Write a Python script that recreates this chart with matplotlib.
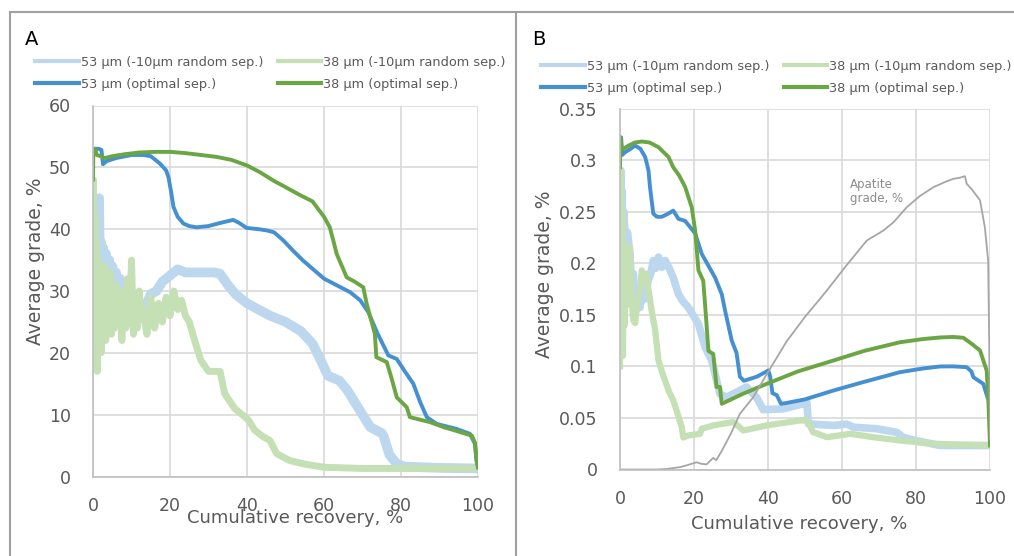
import matplotlib
matplotlib.use("Agg")
import matplotlib.pyplot as plt
from matplotlib.lines import Line2D

# ---------- data, panel A (grade in %) ----------
lb_a_x = [0, 0.2, 0.4, 0.6, 0.8, 1.0, 1.2, 1.4, 1.6, 1.8, 2.0, 2.3, 2.6, 3.0, 3.4, 3.8, 4.2, 4.6, 5.0, 5.5,
          6.0, 6.5, 7.0, 7.5, 8.0, 8.5, 9.0, 9.5, 10, 11, 12, 13, 14, 15, 16.5, 18, 20, 22, 24, 26, 28, 30,
          31.5, 33, 35, 37, 40, 43, 46, 50, 54, 57, 59, 61, 64, 66, 69, 72, 75, 75.5, 77, 79, 81, 85, 90, 100]
lb_a_y = [30, 22, 40, 25, 36, 24, 44, 28, 45, 30, 38, 27, 37, 30, 36, 29, 35, 27, 34, 28,
          33, 26, 32, 27, 30, 26, 29, 25, 28, 26, 25.5, 27, 28, 29.5, 30, 31.5, 32.5, 33.5, 33, 33, 33, 33,
          33, 32.8, 31, 29.5, 28, 27, 26, 25, 23.5, 21.5, 19, 16.3, 15.5, 14, 11, 8, 7, 6.5, 3.5, 2.0, 1.6, 1.5, 1.4, 1.3]

lg_a_x = [0, 0.1, 0.3, 0.5, 0.7, 0.9, 1.1, 1.3, 1.5, 1.8, 2.1, 2.4, 2.7, 3.0, 3.3, 3.6, 4.0, 4.4, 4.8, 5.2,
          5.6, 6.0, 6.5, 7.0, 7.5, 8.0, 8.5, 9.0, 9.5, 10.0, 10.5, 11, 11.5, 12, 12.5, 13, 14, 15, 16, 17,
          18, 19, 20, 21, 22, 23, 24, 25, 26.4, 28, 30, 33, 34.2, 36.8, 40.3, 42, 44, 46, 47.7, 51, 55, 60, 70, 100]
lg_a_y = [25, 48, 30, 42, 22, 38, 17, 35, 24, 33, 20, 31, 25, 34, 22, 30, 26, 33, 23, 29,
          24, 31, 25, 28, 22, 30, 24, 32, 26, 35, 23, 29, 24, 30, 26, 27, 23, 29, 24, 28,
          25, 29, 26, 30, 27, 28.5, 26, 25, 22, 18.8, 17, 17, 13.4, 11, 9.2, 7.5, 6.5, 5.8, 3.7, 2.6, 2, 1.5, 1.3, 1.3]

bo_a_x = [0, 0.5, 1.5, 2.2, 2.6, 3.5, 6, 10, 13, 15, 17.4, 19, 19.6, 20.3, 20.9, 22, 23.5, 25, 26.9, 30,
          33, 36.4, 38, 39.9, 43, 45.1, 47, 49.4, 52, 54.6, 60, 66.8, 69.4, 71.5, 74, 76.7, 78.9, 81, 83.2,
          85, 86.7, 89.3, 94.4, 97.9, 99.2, 99.6, 100]
bo_a_y = [53, 53, 53, 52.8, 50.5, 51, 51.5, 52, 52, 51.8, 50.6, 49.5, 48.4, 46, 43.6, 42, 40.9, 40.5, 40.3, 40.5,
          41, 41.5, 41, 40.2, 40, 39.8, 39.5, 38.2, 36.5, 34.9, 32, 29.8, 28.5, 26.6, 23, 19.6, 19.0, 17, 15,
          12, 9.6, 8.5, 7.7, 6.9, 5.3, 2.5, 1.5]

go_a_x = [0, 0.1, 0.5, 1, 2, 3, 5, 8, 12, 16, 20, 24, 28, 32, 36, 40, 43.4, 47, 50, 53.8, 57, 60, 61.5,
          62.4, 63.3, 65.9, 68, 70.2, 71.1, 73.2, 73.6, 76.3, 77.5, 78.9, 81.5, 82.3, 87.5, 91, 95.3, 98.4,
          99.2, 99.6, 100]
go_a_y = [48, 53, 53, 52, 51.8, 51.5, 51.8, 52.1, 52.4, 52.5, 52.5, 52.3, 52, 51.7, 51.2, 50.3, 49.2, 47.8, 46.8,
          45.5, 44.5, 42, 40.3, 38.2, 36, 32.2, 31.5, 30.6, 27.9, 23.1, 19.3, 18.5, 16, 12.8, 11.2, 9.6, 8.8,
          8.0, 7.2, 6.6, 5.5, 3, 1.5]

# ---------- data, panel B (grade, fraction) ----------
lb_b_x = [0, 0.2, 0.4, 0.6, 0.8, 1.0, 1.35, 1.7, 2.0, 2.7, 3.2, 3.6, 4.1, 4.6, 5.4, 6, 6.5, 7.6, 8.3, 9,
          9.6, 10.4, 11.3, 12.2, 13.3, 14.4, 15.8, 17, 18.5, 21.2, 23, 24.8, 27, 28.8, 34.2, 36.9, 38.7,
          44.1, 49.5, 50.5, 50.9, 57.7, 61.3, 63.1, 69.4, 74.8, 76.6, 80, 86.5, 100]
lb_b_y = [0.20, 0.29, 0.17, 0.27, 0.19, 0.25, 0.2285, 0.2, 0.23, 0.209, 0.17, 0.19, 0.151, 0.165, 0.157, 0.17,
          0.165, 0.183, 0.19, 0.2026, 0.195, 0.206, 0.196, 0.2026, 0.195, 0.186, 0.170, 0.163, 0.157, 0.141,
          0.1186, 0.1057, 0.0734, 0.070, 0.080, 0.070, 0.058, 0.0588, 0.0637, 0.0653, 0.0443, 0.0427, 0.044,
          0.041, 0.0395, 0.036, 0.031, 0.028, 0.0233, 0.0233]

lg_b_x = [0, 0.2, 0.4, 0.6, 0.8, 1.0, 1.3, 1.6, 2.0, 2.3, 2.7, 3.0, 3.6, 4.1, 4.6, 5.2, 5.9, 6.5, 7.0, 7.6,
          8.5, 9.5, 10.4, 11.3, 12.2, 13.3, 14.4, 15.5, 16.7, 17.1, 18.5, 21.6, 22.1, 25.2, 30.6, 32, 33.3,
          39.6, 48.6, 49.5, 50.5, 52.2, 55.9, 62.2, 68.5, 75.7, 84.7, 100]
lg_b_y = [0.10, 0.29, 0.13, 0.25, 0.11, 0.22, 0.14, 0.21, 0.16, 0.2, 0.2155, 0.17, 0.1445, 0.142, 0.16, 0.17,
          0.193, 0.18, 0.19, 0.177, 0.155, 0.135, 0.1057, 0.095, 0.086, 0.075, 0.067, 0.055, 0.041, 0.031,
          0.033, 0.0346, 0.0395, 0.0427, 0.046, 0.042, 0.0378, 0.0427, 0.0475, 0.0475, 0.048, 0.0362, 0.0313,
          0.0346, 0.0313, 0.0281, 0.0249, 0.0233]

bo_b_x = [0, 0.3, 0.6, 1.5, 2.5, 4.1, 5.5, 6.8, 7.7, 8.1, 9, 10, 11.3, 13, 14.4, 15.8, 17.6, 20.3, 22.1,
          25.7, 27.5, 28.4, 30.2, 31.5, 32.4, 33.5, 37, 40.1, 40.6, 41.2, 42.4, 43.5, 45, 50, 57.7, 66, 75.7,
          82, 86.5, 90, 93.7, 95, 95.5, 98.2, 99.3, 100]
bo_b_y = [0.322, 0.322, 0.305, 0.308, 0.31, 0.314, 0.311, 0.303, 0.29, 0.274, 0.248, 0.245, 0.245, 0.248,
          0.251, 0.243, 0.241, 0.229, 0.209, 0.186, 0.170, 0.154, 0.125, 0.113, 0.09, 0.086, 0.09, 0.096,
          0.09, 0.074, 0.072, 0.0637, 0.0645, 0.068, 0.0766, 0.085, 0.0944, 0.098, 0.0999, 0.1, 0.0992,
          0.095, 0.0895, 0.083, 0.070, 0.065]

go_b_x = [0, 0.1, 0.5, 2.3, 4, 5.9, 8, 10.4, 13.1, 14.4, 16, 17.6, 19.4, 20.3, 21.2, 22.5, 23.2, 23.9, 25.2,
          26.1, 27, 27.5, 33, 39.6, 48, 57.7, 66, 75.7, 82, 86.5, 90, 92.8, 95, 97.3, 99.1, 99.6, 100]
go_b_y = [0.293, 0.322, 0.31, 0.314, 0.317, 0.318, 0.317, 0.3125, 0.303, 0.293, 0.285, 0.274, 0.254, 0.232,
          0.193, 0.183, 0.15, 0.115, 0.112, 0.080, 0.080, 0.0637, 0.073, 0.083, 0.095, 0.1057, 0.115, 0.1234,
          0.1265, 0.128, 0.1285, 0.1277, 0.122, 0.1154, 0.096, 0.0637, 0.0233]

apat_x = [0, 5, 10, 12.6, 16.2, 18, 20.7, 22, 23.4, 25.2, 26, 27.5, 30, 32.4, 36, 39.6, 45, 50, 55.9, 61,
          66.7, 71.2, 74, 77.5, 81, 84.7, 88, 90.1, 92, 93.2, 93.7, 95, 97.3, 98.6, 99.5, 99.8, 100]
apat_y = [0, 0, 0, 0.0005, 0.0023, 0.004, 0.007, 0.0055, 0.005, 0.0113, 0.009, 0.018, 0.035, 0.054, 0.07,
          0.092, 0.124, 0.148, 0.1735, 0.197, 0.222, 0.2317, 0.24, 0.2543, 0.265, 0.2737, 0.279, 0.2818,
          0.283, 0.2844, 0.277, 0.272, 0.261, 0.235, 0.2026, 0.12, 0.03]

labels = ["53 µm (-10µm random sep.)", "53 µm (optimal sep.)",
          "38 µm (-10µm random sep.)", "38 µm (optimal sep.)"]
a_yticks = [0, 10, 20, 30, 40, 50, 60]
b_yticks = [0, 0.05, 0.1, 0.15, 0.2, 0.25, 0.3, 0.35]
b_yticklabels = ["0", "0.05", "0.1", "0.15", "0.2", "0.25", "0.3", "0.35"]
xticks = [0, 20, 40, 60, 80, 100]

c_lb = "#BDD7EE"
c_lg = "#C5E0B4"
c_bo = "#4590D0"
c_go = "#6AA643"
txt = "#595959"

fig = plt.figure(figsize=(10.14, 5.56), dpi=100)

axA = fig.add_axes([93 / 1014, 1 - 476.5 / 556, 385 / 1014, 371 / 556])
axB = fig.add_axes([620 / 1014, 1 - 469.5 / 556, 370 / 1014, 361 / 556])


def style(ax, xpad):
    ax.set_xlim(0, 100)
    ax.set_xticks(xticks)
    ax.grid(True, color="#D9D9D9", lw=1.2)
    ax.set_axisbelow(True)
    for s in ["top", "right"]:
        ax.spines[s].set_visible(False)
    for s in ["left", "bottom"]:
        ax.spines[s].set_color("#BFBFBF")
        ax.spines[s].set_linewidth(1.2)
    ax.tick_params(length=0, labelsize=12.5, colors=txt)
    ax.tick_params(axis="x", pad=xpad)
    ax.tick_params(axis="y", pad=16)


# panel A
axA.plot(lb_a_x, lb_a_y, color=c_lb, lw=7, solid_joinstyle="round")
axA.plot(lg_a_x, lg_a_y, color=c_lg, lw=5, solid_joinstyle="round")
axA.plot(bo_a_x, bo_a_y, color=c_bo, lw=2.8)
axA.plot(go_a_x, go_a_y, color=c_go, lw=2.8)
style(axA, 14.5)
axA.set_ylim(0, 60)
axA.set_yticks(a_yticks)
axA.set_xlabel("Cumulative recovery, %", fontsize=13, color=txt)
axA.xaxis.set_label_coords(0.525, -0.088)
axA.set_ylabel("Average grade, %", fontsize=13.5, color=txt)
axA.yaxis.set_label_coords(-0.125, 0.58)

# panel B
axB.plot(lb_b_x, lb_b_y, color=c_lb, lw=5.5, solid_joinstyle="round")
axB.plot(lg_b_x, lg_b_y, color=c_lg, lw=4.5, solid_joinstyle="round")
axB.plot(bo_b_x, bo_b_y, color=c_bo, lw=2.8)
axB.plot(go_b_x, go_b_y, color=c_go, lw=2.8)
axB.plot(apat_x, apat_y, color="#A6A6A6", lw=1.3)
style(axB, 15)
axB.set_ylim(0, 0.35)
axB.set_yticks(b_yticks)
axB.set_yticklabels(b_yticklabels)
axB.set_xlabel("Cumulative recovery, %", fontsize=13, color=txt)
axB.xaxis.set_label_coords(0.484, -0.126)
axB.set_ylabel("Average grade, %", fontsize=13.5, color=txt)
axB.yaxis.set_label_coords(-0.178, 0.54)
axB.text(62.2, 0.283, "Apatite\ngrade, %", fontsize=8.5, color="#8C8C8C", va="top", ha="left",
         linespacing=1.1)

# legends
handles = [Line2D([], [], color=c, lw=3) for c in (c_lb, c_bo, c_lg, c_go)]
for ax, x0, y0 in ((axA, 35 / 1014, 1 - 56 / 556), (axB, 541 / 1014, 1 - 60 / 556)):
    ax.legend(handles, labels, ncol=2, loc="upper left", bbox_to_anchor=(x0, y0),
              bbox_transform=fig.transFigure, frameon=False, fontsize=9.3,
              handlelength=3.4, handletextpad=0.15, columnspacing=1.1,
              labelspacing=0.68, borderpad=0, borderaxespad=0, labelcolor=txt)

# panel letters
fig.text(25 / 1014, 1 - 45 / 556, "A", fontsize=14, va="baseline")
fig.text(532 / 1014, 1 - 45 / 556, "B", fontsize=14, va="baseline")

# panel frames
bc = "#A0A0A0"
fig.add_artist(Line2D([10 / 1014, 1], [1 - 12 / 556, 1 - 12 / 556], color=bc, lw=1.5))
fig.add_artist(Line2D([10 / 1014, 10 / 1014], [0, 1 - 12 / 556], color=bc, lw=1.5))
fig.add_artist(Line2D([516 / 1014, 516 / 1014], [0, 1 - 12 / 556], color=bc, lw=1.5))

fig.savefig("out.png", dpi=100)
